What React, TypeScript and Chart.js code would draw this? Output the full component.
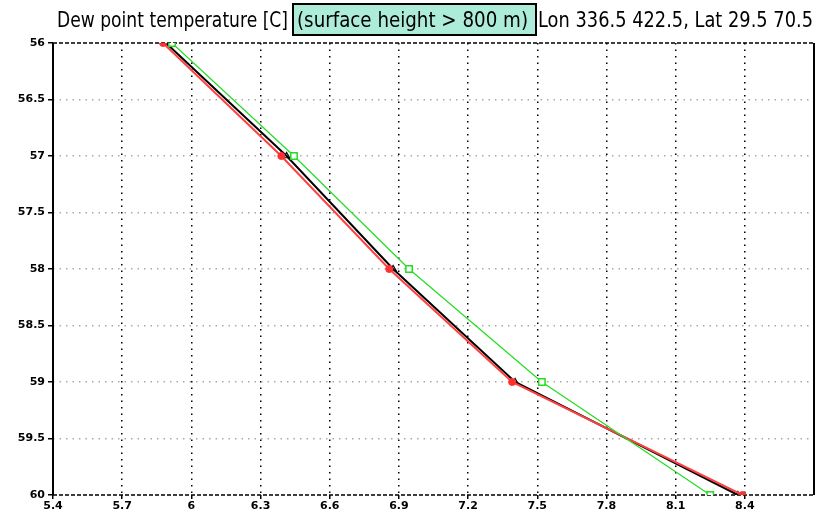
import React, { useEffect, useRef } from "react";
import { Chart, registerables } from "chart.js";

Chart.register(...registerables);

const levels = [56, 57, 58, 59, 60];
const redX = [5.877, 6.39, 6.858, 7.391, 8.39];
const blackX = [5.89, 6.413, 6.875, 7.404, 8.37];
const greenX = [5.916, 6.445, 6.944, 7.52, 8.25];
const xTicks = [5.4, 5.7, 6, 6.3, 6.6, 6.9, 7.2, 7.5, 7.8, 8.1, 8.4];
const yTicks = [56, 56.5, 57, 57.5, 58, 58.5, 59, 59.5, 60];
const titleLeft = "Dew point temperature [C]";
const titleBox = "(surface height > 800 m)";
const titleRight = "Lon 336.5 422.5, Lat 29.5 70.5";

const fmt = (v: number) => String(Number(v.toFixed(2)));

const framePlugin = {
  id: "frame",
  beforeDatasetsDraw(chart: any) {
    const { ctx, chartArea: a } = chart;
    ctx.save();
    ctx.strokeStyle = "#000";
    ctx.lineWidth = 1.5;
    ctx.setLineDash([4, 2]);
    ctx.beginPath();
    ctx.moveTo(a.left, a.top);
    ctx.lineTo(a.right, a.top);
    ctx.moveTo(a.left, a.bottom);
    ctx.lineTo(a.right, a.bottom);
    ctx.stroke();
    ctx.setLineDash([]);
    ctx.lineWidth = 2;
    ctx.beginPath();
    ctx.moveTo(a.left, a.top);
    ctx.lineTo(a.left, a.bottom);
    ctx.moveTo(a.right, a.top);
    ctx.lineTo(a.right, a.bottom);
    ctx.stroke();
    ctx.restore();
  },
  afterDraw(chart: any) {
    const ctx = chart.ctx;
    const drawFit = (text: string, x0: number, x1: number, base: number) => {
      ctx.save();
      ctx.font = "22px 'DejaVu Sans'";
      ctx.fillStyle = "#000";
      ctx.textBaseline = "alphabetic";
      const w = ctx.measureText(text).width;
      const s = (x1 - x0) / w;
      ctx.translate(x0, base);
      ctx.scale(s, 1);
      ctx.fillText(text, 0, 0);
      ctx.restore();
    };
    ctx.save();
    ctx.fillStyle = "#adecd8";
    ctx.fillRect(293, 4, 243, 31);
    ctx.strokeStyle = "#000";
    ctx.lineWidth = 2;
    ctx.strokeRect(293, 4, 243, 31);
    ctx.restore();
    drawFit(titleLeft, 57, 288, 27);
    drawFit(titleBox, 297, 528, 27);
    drawFit(titleRight, 538, 813, 27);
  },
};

export default function App() {
  const ref = useRef<HTMLCanvasElement | null>(null);
  useEffect(() => {
    document.body.style.margin = "0";
    const canvas = ref.current!;
    const mk = (xs: number[]) => xs.map((x, i) => ({ x, y: levels[i] }));
    const chart = new Chart(canvas, {
      type: "line",
      data: {
        datasets: [
          {
            data: mk(greenX),
            borderColor: "#22dd22",
            borderWidth: 1.2,
            pointStyle: "rect",
            pointRadius: 4.5,
            pointBorderWidth: 1.5,
            pointBorderColor: "#22dd22",
            pointBackgroundColor: "#ffffff",
            tension: 0,
          },
          {
            data: mk(redX),
            borderColor: "#ff4040",
            borderWidth: 2,
            pointStyle: "circle",
            pointRadius: 3.5,
            pointBorderWidth: 1,
            pointBorderColor: "#ff3030",
            pointBackgroundColor: "#ff3030",
            tension: 0,
          },
          {
            data: mk(blackX),
            borderColor: "#000000",
            borderWidth: 2,
            pointStyle: "triangle",
            pointRadius: 3.5,
            pointBorderWidth: 1.2,
            pointBorderColor: "#000",
            pointBackgroundColor: "rgba(0,0,0,0)",
            tension: 0,
          },
        ],
      },
      plugins: [framePlugin],
      options: {
        responsive: false,
        animation: false,
        layout: { padding: { top: 43, right: 19, left: 0, bottom: 0 } },
        plugins: { legend: { display: false }, tooltip: { enabled: false }, title: { display: false } },
        scales: {
          x: {
            type: "linear",
            min: 5.4,
            max: 8.7,
            afterBuildTicks: (s: any) => {
              s.ticks = xTicks.map((value) => ({ value }));
            },
            afterFit: (s: any) => {
              s.height = 22;
            },
            ticks: {
              autoSkip: false,
              maxRotation: 0,
              padding: 1,
              color: "#000",
              font: { family: "'DejaVu Sans'", size: 11, weight: "bold" },
              callback: (v: any) => fmt(Number(v)),
            },
            grid: {
              color: (c: any) => (c.tick && c.tick.value === 5.4 ? "rgba(0,0,0,0)" : "#000"),
              lineWidth: 1.5,
              tickColor: "#000",
              tickLength: 4,
              tickWidth: 1.5,
              tickBorderDash: [],
            },
            border: { display: false, dash: [1.5, 5] },
          },
          y: {
            type: "linear",
            min: 56,
            max: 60,
            reverse: true,
            afterBuildTicks: (s: any) => {
              s.ticks = yTicks.map((value) => ({ value }));
            },
            afterFit: (s: any) => {
              s.width = 53;
            },
            ticks: {
              autoSkip: false,
              padding: 3,
              color: "#000",
              font: { family: "'DejaVu Sans'", size: 11, weight: "bold" },
              callback: (v: any) => fmt(Number(v)),
            },
            grid: {
              color: (c: any) =>
                c.tick && (c.tick.value === 56 || c.tick.value === 60) ? "rgba(0,0,0,0)" : "#aaaaaa",
              lineWidth: 1.5,
              tickColor: "#000",
              tickLength: 5,
              tickWidth: 1.5,
              tickBorderDash: [],
            },
            border: { display: false, dash: [1.5, 5] },
          },
        },
      } as any,
    });
    return () => chart.destroy();
  }, []);
  return (
    <div style={{ width: 833, height: 517, background: "#fff" }}>
      <canvas ref={ref} width={833} height={517} />
    </div>
  );
}
